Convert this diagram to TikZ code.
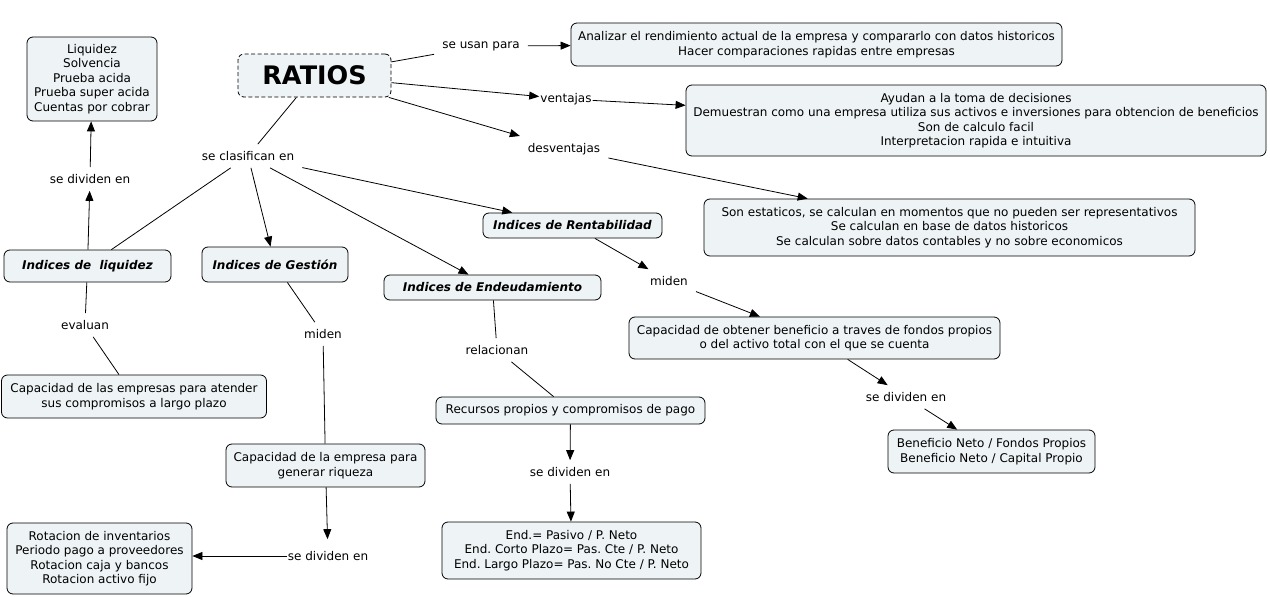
\documentclass[tikz,border=0pt]{standalone}
\usepackage{fontspec}
\setmainfont{DejaVu Sans}
\usetikzlibrary{arrows.meta}
\definecolor{boxfill}{HTML}{EEF3F5}
\newcommand\cmfont{\fontsize{12}{14.5}\selectfont}
\frenchspacing
\begin{document}
\begin{tikzpicture}[x=1pt,y=-1pt,
  box/.style={draw, fill=boxfill, rounded corners=6pt, line width=0.8pt, align=center, font=\cmfont, inner sep=2pt},
  idx/.style={font=\cmfont\bfseries\itshape},
  lbl/.style={font=\cmfont, inner xsep=8pt, inner ysep=7pt},
  conn/.style={line width=0.8pt},
  arr/.style={conn, -{Triangle[length=10pt,width=8pt]}}]
\useasboundingbox (0,0) rectangle (1270,597);
% concept boxes
\node[box, dash pattern=on 4pt off 2.5pt, minimum width=153pt, minimum height=43pt, font=\fontsize{25.5}{28}\selectfont\bfseries] (ratios) at (314.5,75.5) {RATIOS};
\node[box, minimum width=130pt, minimum height=84pt] (liqlist) at (92,79) {Liquidez\\Solvencia\\Prueba acida\\Prueba super acida\\Cuentas por cobrar};
\node[box, minimum width=491pt, minimum height=43pt] (usos) at (816.5,44.5) {Analizar el rendimiento actual de la empresa y compararlo con datos historicos\\Hacer comparaciones rapidas entre empresas};
\node[box, minimum width=580pt, minimum height=71pt] (vent) at (976,120.5) {Ayudan a la toma de decisiones\\Demuestran como una empresa utiliza sus activos e inversiones para obtencion de beneficios\\Son de calculo facil\\Interpretacion rapida e intuitiva};
\node[box, minimum width=491pt, minimum height=57pt] (desv) at (949.5,227.5) {Son estaticos, se calculan en momentos que no pueden ser representativos\\Se calculan en base de datos historicos\\Se calculan sobre datos contables y no sobre economicos};
\node[box, idx, minimum width=167pt, minimum height=32pt] (iliq) at (87.5,266) {Indices de\ \ liquidez};
\node[box, idx, minimum width=146pt, minimum height=35pt] (iges) at (275,264.5) {Indices de Gestión};
\node[box, idx, minimum width=217pt, minimum height=25pt] (iend) at (492.5,287.5) {Indices de Endeudamiento};
\node[box, idx, minimum width=179pt, minimum height=25pt] (iren) at (572.5,225.5) {Indices de Rentabilidad};
\node[box, minimum width=265pt, minimum height=43pt] (cemp) at (134,396.5) {Capacidad de las empresas para atender\\sus compromisos a largo plazo};
\node[box, minimum width=199pt, minimum height=43pt] (crq) at (325.5,465.5) {Capacidad de la empresa para\\generar riqueza};
\node[box, minimum width=185pt, minimum height=71pt] (rot) at (99.5,558.5) {Rotacion de inventarios\\Periodo pago a proveedores\\Rotacion caja y bancos\\Rotacion activo fijo};
\node[box, minimum width=269pt, minimum height=27pt] (rec) at (570.5,410.5) {Recursos propios y compromisos de pago};
\node[box, minimum width=259pt, minimum height=57pt] (endb) at (571.5,550.5) {End.= Pasivo / P. Neto\\End. Corto Plazo= Pas. Cte / P. Neto\\End. Largo Plazo= Pas. No Cte / P. Neto};
\node[box, minimum width=371pt, minimum height=42pt] (cob) at (814.5,338) {Capacidad de obtener beneficio a traves de fondos propios\\o del activo total con el que se cuenta};
\node[box, minimum width=207pt, minimum height=43pt] (ben) at (991.5,451.5) {Beneficio Neto / Fondos Propios\\Beneficio Neto / Capital Propio};
% linking phrases
\node[lbl] (usan) at (481,46) {se usan para};
\node[lbl, inner sep=1pt] (vlab) at (566,99) {ventajas};
\node[lbl] (dlab) at (564,149) {desventajas};
\node[lbl] (clas) at (248,156) {se clasifican en};
\node[lbl] (div1) at (90,179) {se dividen en};
\node[lbl] (eval) at (85,325) {evaluan};
\node[lbl] (mid1) at (323,334) {miden};
\node[lbl] (rel) at (497,350) {relacionan};
\node[lbl] (mid2) at (669,281) {miden};
\node[lbl] (div2) at (906,397) {se dividen en};
\node[lbl] (div3) at (570,472) {se dividen en};
\node[lbl, inner xsep=1pt, inner ysep=12pt] (div4) at (328,556) {se dividen en};
% connectors
\draw[conn] (ratios) -- (usan);
\draw[arr] (usan) -- (usos);
\draw[arr] (ratios) -- (vlab);
\draw[arr] (vlab) -- (vent);
\draw[arr] (ratios) -- (dlab);
\draw[arr] (dlab) -- (desv);
\draw[conn] (ratios) -- (clas);
\draw[conn] (clas) -- (iliq);
\draw[arr] (clas) -- (iges);
\draw[arr] (clas) -- (iend);
\draw[arr] (clas) -- (iren);
\draw[arr] (iliq) -- (div1);
\draw[arr] (div1) -- (liqlist);
\draw[conn] (iliq) -- (eval);
\draw[conn] (eval) -- (cemp);
\draw[conn] (iges) -- (mid1);
\draw[conn] (mid1) -- (crq);
\draw[arr] (crq) -- (div4);
\draw[arr] (div4.west) -- (div4.west -| rot.east);
\draw[conn] (iend) -- (rel);
\draw[conn] (rel) -- (rec);
\draw[arr] (rec) -- (div3);
\draw[arr] (div3) -- (endb);
\draw[arr] (iren) -- (mid2);
\draw[arr] (mid2) -- (cob);
\draw[arr] (cob) -- (div2);
\draw[arr] (div2) -- (ben);
\end{tikzpicture}
\end{document}
